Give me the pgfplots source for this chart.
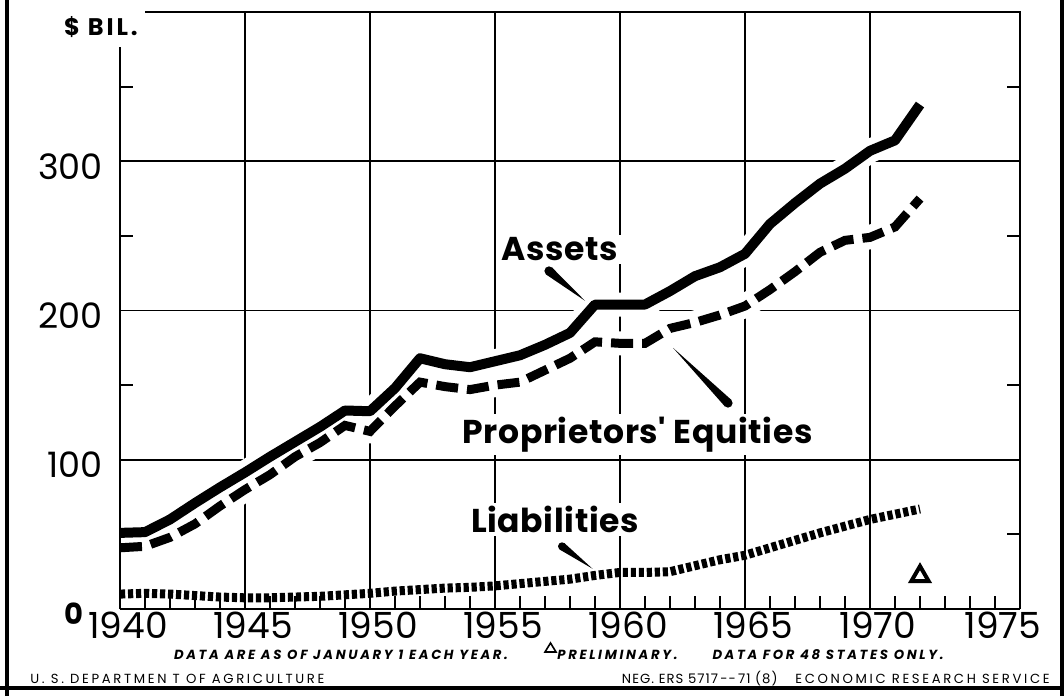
\documentclass[border=0pt]{standalone}
\usepackage{pgfplots}
\pgfplotsset{compat=1.18}
\usepackage{pgfplotstable}
\usepackage{fontspec}
\setmainfont{Poppins}
\newfontfamily\footfont[LetterSpace=20]{Poppins}
\newfontfamily\negfont[LetterSpace=8]{Poppins}
\newfontfamily\labfont[LetterSpace=2]{Poppins}
\newfontfamily\bilfont[LetterSpace=12]{Poppins}
\usetikzlibrary{calc}

\pgfplotstableread{
year assets
1940 51
1941 51.5
1942 60
1943 71
1944 81.5
1945 91.5
1946 102
1947 112
1948 122
1949 133
1950 132.5
1951 148
1952 168
1953 164
1954 162
1955 166
1956 170
1957 177
1958 185
1959 204
1960 204
1961 204
1962 213
1963 223
1964 229
1965 238
1966 258
1967 272
1968 285
1969 295
1970 307
1971 314
1972 338
}\assets

\pgfplotstableread{
year equities
1940 41
1941 42
1942 48
1943 57
1944 69
1945 80
1946 90
1947 102
1948 111.5
1949 123
1950 119
1951 136
1952 152
1953 149
1954 147
1955 150
1956 152
1957 160
1958 168
1959 179
1960 178
1961 178
1962 188
1963 192
1964 197
1965 203
1966 214
1967 226
1968 239
1969 247
1970 249
1971 256
1972 275
}\equities

\pgfplotstableread{
year liabilities
1940 10
1941 10.5
1942 10
1943 9
1944 8
1945 7.5
1946 7.5
1947 8
1948 8.5
1949 9.5
1950 10.5
1951 12
1952 13
1953 14
1954 14.5
1955 15.5
1956 17
1957 18.5
1958 20
1959 22.5
1960 24.5
1961 24.5
1962 25
1963 29
1964 33
1965 36
1966 41
1967 46
1968 51
1969 55.5
1970 60
1971 63.5
1972 67
}\liabilities

\begin{document}
\begin{tikzpicture}[x=1pt,y=1pt]
\useasboundingbox (0,0) rectangle (532,348);
% outer frame
\draw[line width=1.7pt] (3.5,0) -- (3.5,348);
\draw[line width=1.7pt] (531,0) -- (531,348);
\draw[line width=1.7pt] (0,4) -- (532,4);

\begin{axis}[
  at={(60pt,43.5pt)}, anchor=south west,
  scale only axis, width=450pt, height=298.5pt,
  xmin=1940, xmax=1976, ymin=0, ymax=400,
  axis line style={draw=none},
  axis on top,
  clip=false,
  xtick={1940,...,1975},
  xticklabels={1940,,,,,1945,,,,,1950,,,,,1955,,,,,1960,,,,,1965,,,,,1970,,,,,1975},
  xtick pos=bottom,
  ytick={50,150,250,350},
  yticklabels={},
  ytick pos=both,
  yticklabel pos=left,
  extra y ticks={100,200,300},
  extra y tick labels={100,200,300},
  extra y tick style={major tick length=0pt},
  tick align=inside,
  major tick length=6.5pt,
  tick style={black, line width=0.9pt},
  xticklabel style={font=\fontsize{18}{18}\selectfont, anchor=base, inner sep=0pt, xshift=4pt, yshift=-14.5pt},
  yticklabel style={font=\fontsize{17.5}{17.5}\selectfont, anchor=east, inner sep=0pt, xshift=-8.5pt, yshift=-2.5pt},
]
% grid
\draw[line width=0.8pt] (axis cs:1945,0) -- (axis cs:1945,400);
\draw[line width=0.8pt] (axis cs:1950,0) -- (axis cs:1950,400);
\draw[line width=0.8pt] (axis cs:1955,0) -- (axis cs:1955,400);
\draw[line width=0.8pt] (axis cs:1960,0) -- (axis cs:1960,400);
\draw[line width=0.8pt] (axis cs:1965,0) -- (axis cs:1965,400);
\draw[line width=0.8pt] (axis cs:1970,0) -- (axis cs:1970,400);
\draw[line width=0.8pt] (axis cs:1940,100) -- (axis cs:1976,100);
\draw[line width=0.8pt] (axis cs:1940,200) -- (axis cs:1976,200);
\draw[line width=0.8pt] (axis cs:1940,300) -- (axis cs:1976,300);
% halos
\addplot[white, line width=12pt, line join=round] table[x=year,y=assets] {\assets};
\addplot[white, line width=12pt, line join=round] table[x=year,y=equities] {\equities};
% frame
\draw[line width=1pt] (axis cs:1940,0) -- (axis cs:1940,376.5);
\draw[line width=1pt] (axis cs:1941,400) -- (axis cs:1976,400) -- (axis cs:1976,0);
\draw[line width=1.3pt] (axis cs:1940,0) -- (axis cs:1976,0);
% series
\addplot[black, line width=5pt, line join=round] table[x=year,y=assets] {\assets};
\addplot[black, line width=4.5pt, dash pattern=on 11pt off 4.5pt] table[x=year,y=equities] {\equities};
\addplot[black, line width=4.5pt, dash pattern=on 2.6pt off 1.4pt] table[x=year,y=liabilities] {\liabilities};
\addplot[only marks, mark=triangle, mark size=5pt, mark options={black, line width=2pt}] coordinates {(1972,22)};
% labels
\node[font=\labfont\bfseries\fontsize{16.5}{16.5}\selectfont, fill=white, inner sep=1.5pt] at (axis cs:1957.6,241) {Assets};
\node[font=\labfont\bfseries\fontsize{16.5}{16.5}\selectfont, fill=white, inner sep=1.5pt, anchor=base] at (axis cs:1960.7,111) {Proprietors' Equities};
\node[font=\labfont\bfseries\fontsize{16.5}{16.5}\selectfont, fill=white, inner sep=1.5pt, anchor=base] at (axis cs:1957.4,51) {Liabilities};
\node[font=\bfseries\fontsize{14.5}{14.5}\selectfont, inner sep=0pt] at (axis cs:1940,0) [xshift=-23pt, yshift=-2.5pt] {0};
\coordinate (at) at (axis cs:1957.16,226.5);
\coordinate (ap) at (axis cs:1958.6,206.5);
\coordinate (et) at (axis cs:1964.32,138);
\coordinate (ep) at (axis cs:1962.12,175);
\coordinate (lt) at (axis cs:1957.68,42);
\coordinate (lp) at (axis cs:1958.9,27);
\end{axis}
% pointers
\fill ($(at)!2.3pt!90:(ap)$) -- ($(at)!2.3pt!-90:(ap)$) -- (ap) -- cycle;
\fill (at) circle (2.3pt);
\fill ($(et)!2.3pt!90:(ep)$) -- ($(et)!2.3pt!-90:(ep)$) -- (ep) -- cycle;
\fill (et) circle (2.3pt);
\fill ($(lt)!2pt!90:(lp)$) -- ($(lt)!2pt!-90:(lp)$) -- (lp) -- cycle;
\fill (lt) circle (2pt);

% y unit label
\node[font=\bilfont\bfseries\fontsize{12}{12}\selectfont, inner sep=0pt] at (50.5,334.5) {\$ BIL.};

% footer
\node[font=\footfont\itshape\bfseries\fontsize{6.6}{7}\selectfont, inner sep=0pt] at (170.5,20.5) {DATA ARE AS OF JANUARY 1 EACH YEAR.};
\draw[line width=0.8pt, line join=miter] (272.5,22) -- (278,22) -- (275.25,26.5) -- cycle;
\node[font=\footfont\itshape\bfseries\fontsize{6.6}{7}\selectfont, inner sep=0pt, anchor=west] at (278.5,20.5) {PRELIMINARY.};
\node[font=\footfont\itshape\bfseries\fontsize{6.6}{7}\selectfont, inner sep=0pt] at (414,20.5) {DATA FOR 48 STATES ONLY.};
\node[font=\footfont\fontsize{6.6}{7}\selectfont, inner sep=0pt, anchor=west] at (15,8.5) {U. S. DEPARTMEN T OF AGRICULTURE};
\node[font=\footfont\fontsize{6.6}{7}\selectfont, inner sep=0pt, anchor=east] at (525,8.5) {ECONOMIC RESEARCH SERVICE};
\node[font=\negfont\fontsize{6.6}{7}\selectfont, inner sep=0pt, anchor=east] at (389,8.5) {NEG. ERS 5717\,--\,71 (8)};
\end{tikzpicture}
\end{document}
